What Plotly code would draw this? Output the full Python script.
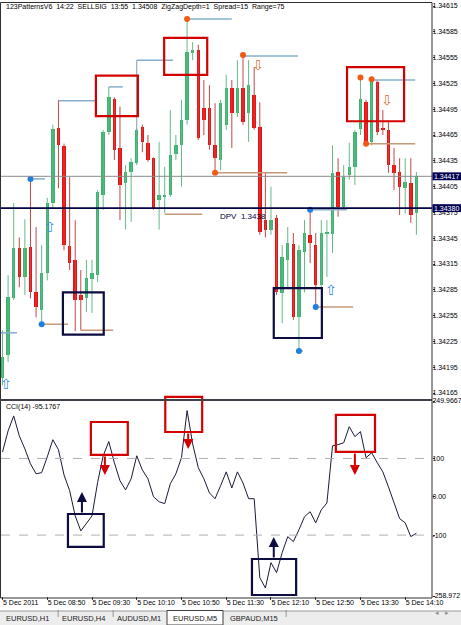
import plotly.graph_objects as go

W, H = 461, 625

# ---------------- data ----------------
bar_idx = list(range(75))
opens = [1.34183, 1.34209, 1.34275, 1.34334, 1.34300, 1.34335, 1.34282, 1.34261, 1.34305, 1.34386,
         1.34473, 1.34452, 1.34336, 1.34320, 1.34279, 1.34275, 1.34298, 1.34302, 1.34395, 1.34468,
         1.34507, 1.34450, 1.34409, 1.34422, 1.34432, 1.34474, 1.34456, 1.34438, 1.34389, 1.34393,
         1.34395, 1.34443, 1.34453, 1.34482, 1.34560, 1.34564, 1.34496, 1.34496, 1.34453, 1.34436,
         1.34477, 1.34520, 1.34491, 1.34520, 1.34491, 1.34511, 1.34474, 1.34366, 1.34355, 1.34368,
         1.34281, 1.34320, 1.34338, 1.34253, 1.34329, 1.34349, 1.34337, 1.34291, 1.34350, 1.34350,
         1.34422, 1.34381, 1.34418, 1.34428, 1.34472, 1.34503, 1.34457, 1.34527, 1.34473, 1.34471,
         1.34430, 1.34422, 1.34403, 1.34409, 1.34374]
closes = [1.34207, 1.34277, 1.34334, 1.34300, 1.34334, 1.34282, 1.34265, 1.34305, 1.34386, 1.34472,
          1.34453, 1.34337, 1.34316, 1.34273, 1.34273, 1.34299, 1.34305, 1.34399, 1.34468, 1.34509,
          1.34448, 1.34407, 1.34422, 1.34434, 1.34471, 1.34457, 1.34436, 1.34380, 1.34395, 1.34395,
          1.34442, 1.34453, 1.34482, 1.34561, 1.34564, 1.34461, 1.34482, 1.34453, 1.34438, 1.34502,
          1.34520, 1.34491, 1.34520, 1.34480, 1.34523, 1.34473, 1.34352, 1.34355, 1.34366, 1.34282,
          1.34323, 1.34339, 1.34253, 1.34331, 1.34351, 1.34339, 1.34291, 1.34351, 1.34352, 1.34421,
          1.34381, 1.34416, 1.34428, 1.34468, 1.34507, 1.34456, 1.34529, 1.34468, 1.34471, 1.34430,
          1.34421, 1.34405, 1.34410, 1.34372, 1.34417]
highs = [1.34238, 1.34302, 1.34386, 1.34346, 1.34367, 1.34414, 1.34358, 1.34337, 1.34392, 1.34477,
         1.34506, 1.34455, 1.34416, 1.34366, 1.34308, 1.34320, 1.34320, 1.34401, 1.34471, 1.34521,
         1.34509, 1.34498, 1.34430, 1.34438, 1.34473, 1.34477, 1.34465, 1.34439, 1.34457, 1.34428,
         1.34494, 1.34465, 1.34506, 1.34600, 1.34573, 1.34570, 1.34529, 1.34523, 1.34502, 1.34506,
         1.34535, 1.34529, 1.34552, 1.34558, 1.34552, 1.34544, 1.34503, 1.34422, 1.34405, 1.34372,
         1.34337, 1.34358, 1.34351, 1.34337, 1.34366, 1.34378, 1.34351, 1.34366, 1.34366, 1.34453,
         1.34438, 1.34430, 1.34456, 1.34471, 1.34532, 1.34506, 1.34530, 1.34529, 1.34494, 1.34482,
         1.34450, 1.34438, 1.34438, 1.34438, 1.34422]
lows = [1.34174, 1.34201, 1.34273, 1.34288, 1.34279, 1.34275, 1.34253, 1.34245, 1.34296, 1.34380,
        1.34403, 1.34331, 1.34308, 1.34237, 1.34238, 1.34259, 1.34258, 1.34294, 1.34378, 1.34465,
        1.34436, 1.34366, 1.34355, 1.34364, 1.34430, 1.34445, 1.34434, 1.34378, 1.34355, 1.34374,
        1.34393, 1.34436, 1.34405, 1.34477, 1.34552, 1.34459, 1.34465, 1.34448, 1.34421, 1.34424,
        1.34471, 1.34450, 1.34486, 1.34477, 1.34457, 1.34471, 1.34349, 1.34346, 1.34349, 1.34279,
        1.34246, 1.34288, 1.34250, 1.34214, 1.34282, 1.34316, 1.34265, 1.34288, 1.34300, 1.34328,
        1.34370, 1.34378, 1.34413, 1.34407, 1.34465, 1.34455, 1.34453, 1.34465, 1.34465, 1.34421,
        1.34401, 1.34372, 1.34374, 1.34363, 1.34349]
cci14 = [117, 172, 211, 159, 125, 86, 60, 63, 104, 149,
         123, 57, 16, -50, -89, -70, -50, 37, 107, 144,
         89, 42, 18, 47, 107, 70, 47, 0, -13, -18,
         34, 60, 102, 225, 138, 76, 47, 10, -5, 29,
         65, 23, 65, 36, -5, -5, -211, -238, -172, -198,
         -146, -104, -117, -86, -52, -39, -68, -34, -16, 133,
         136, 141, 183, 157, 170, 102, 115, 89, 65, 26,
         -13, -57, -68, -104, -95.1767]

price_ticks = [1.34615, 1.34585, 1.34555, 1.34525, 1.34495, 1.34465, 1.34435, 1.34405,
               1.34375, 1.34345, 1.34315, 1.34285, 1.34255, 1.34225, 1.34195, 1.34165]
time_tick_bars = [0, 8, 16, 24, 32, 40, 48, 56, 64, 72]
time_tick_text = ["5 Dec 2011", "5 Dec 08:50", "5 Dec 09:30", "5 Dec 10:10", "5 Dec 10:50",
                  "5 Dec 11:30", "5 Dec 12:10", "5 Dec 12:50", "5 Dec 13:30", "5 Dec 14:10"]
cci_ticks = [249.9667, 100, 0, -100, -258.972]
cci_tick_text = ["249.9667", "100", "0.00", "-100", "-258.972"]

bid_price = 1.34417
dpv_price = 1.34380

# indicator levels: (start bar, end bar, price)
levels_blue = [(10, 16.9, 1.34505), (19, 21.5, 1.34521), (24, 30.5, 1.34552), (33, 41, 1.34600),
               (43, 52.8, 1.34557), (5, 7.6, 1.34414), (55, 61.6, 1.34378), (66, 73.8, 1.34529),
               (-0.5, 2.6, 1.34235)]
levels_brown = [(7, 11.7, 1.34245), (14, 19.8, 1.34238), (29, 35.7, 1.34373), (38, 50.9, 1.34421),
                (56, 62.7, 1.34265), (53, 53.7, 1.34214), (65, 73.8, 1.34455)]
connector_bar, connector_lo, connector_hi = 24, 1.34471, 1.34552
blue_points = [(5, 1.34414), (7, 1.34245), (53, 1.34214), (55, 1.34378), (56, 1.34265)]
orange_points = [(33, 1.34600), (43, 1.34558), (38, 1.34421), (64, 1.34532), (66, 1.34530), (65, 1.34455)]

# pattern boxes: (bar0, bar1, price0, price1)
main_red_boxes = [(16.7, 24.2, 1.34487, 1.34534), (28.9, 36.6, 1.34535, 1.34578), (61.6, 71.8, 1.34481, 1.34544)]
main_navy_boxes = [(10.8, 18.1, 1.34233, 1.34282), (48.5, 57.1, 1.34229, 1.34287)]
up_signals = [(8.5, 1.34358), (0.7, 1.34175), (58.7, 1.34285)]
down_signals = [(45.7, 1.34546), (68.7, 1.34506)]

cci_red_boxes = [(15.8, 22.4, 109.1, 195.2), (29.1, 35.7, 169.0, 260.5), (59.6, 66.6, 117.0, 213.5)]
cci_navy_boxes = [(11.7, 18.1, -131.0, -44.9), (44.6, 52.5, -256.3, -162.4)]
cci_red_arrows = [(18.3, 109.1, 57), (33.2, 169.0, 125), (63.0, 117.0, 57)]
cci_navy_arrows = [(14.2, -44.9, 12.5), (48.5, -162.4, -105)]

tabs = ["EURUSD,H1", "EURUSD,H4", "AUDUSD,M1", "EURUSD,M5", "GBPAUD,M15"]

# ---------------- geometry ----------------
def fx(p):
    return p / W


def fy(p):
    return 1 - p / H


XR = [-0.27, 76.79]
PR = [1.341592, 1.346197]
CR = [-258.972, 249.9667]
MAIN_DOM = [fy(398), fy(2)]
CCI_DOM = [fy(596), fy(401)]
X_DOM = [fx(1), fx(432)]
FONT = "Liberation Sans, Arial, sans-serif"

GREEN = "#3cb371"
RED = "#f01010"
BLUE_LVL = "#86aecb"
BROWN_LVL = "#c49a78"
NAVY = "#0c0c40"
BOXRED = "#d40000"

fig = go.Figure()

# wicks
for up, wcol in ((True, "#62bb86"), (False, "#c04848")):
    xs, ys = [], []
    for i in bar_idx:
        if (closes[i] >= opens[i]) == up:
            xs += [i, i, None]
            ys += [lows[i], highs[i], None]
    fig.add_trace(go.Scatter(x=xs, y=ys, mode="lines", line=dict(color=wcol, width=1),
                             xaxis="x", yaxis="y", hoverinfo="skip"))

# bodies
base = [min(o, c) for o, c in zip(opens, closes)]
hgt = [max(abs(c - o), 0.000015) for o, c in zip(opens, closes)]
cols = [GREEN if c >= o else RED for o, c in zip(opens, closes)]
fig.add_trace(go.Bar(x=bar_idx, y=hgt, base=base, width=0.62,
                     marker=dict(color=cols, line=dict(width=0)), xaxis="x", yaxis="y"))

# level lines
for lv, colr in ((levels_blue, BLUE_LVL), (levels_brown, BROWN_LVL)):
    xs, ys = [], []
    for a, b, p in lv:
        xs += [a, b, None]
        ys += [p, p, None]
    fig.add_trace(go.Scatter(x=xs, y=ys, mode="lines", line=dict(color=colr, width=1.5),
                             xaxis="x", yaxis="y"))
fig.add_trace(go.Scatter(x=[connector_bar, connector_bar], y=[connector_lo, connector_hi], mode="lines",
                         line=dict(color="#7f9fb8", width=1), xaxis="x", yaxis="y"))

# zigzag points
fig.add_trace(go.Scatter(x=[p[0] for p in blue_points], y=[p[1] for p in blue_points], mode="markers",
                         marker=dict(color="#1e7fe0", size=6), xaxis="x", yaxis="y"))
fig.add_trace(go.Scatter(x=[p[0] for p in orange_points], y=[p[1] for p in orange_points], mode="markers",
                         marker=dict(color="#f05a14", size=6), xaxis="x", yaxis="y"))

# CCI
fig.add_trace(go.Scatter(x=bar_idx, y=cci14, mode="lines", line=dict(color="#1a1a3a", width=1),
                         xaxis="x", yaxis="y2"))

shapes = []
# horizontal price lines
shapes.append(dict(type="line", xref="paper", yref="y", x0=fx(1), x1=fx(432), y0=bid_price, y1=bid_price,
                   line=dict(color="#8a8a8a", width=1)))
shapes.append(dict(type="line", xref="paper", yref="y", x0=fx(1), x1=fx(432), y0=dpv_price, y1=dpv_price,
                   line=dict(color="#000040", width=1.6)))
# CCI levels
for lv in (100, -100):
    shapes.append(dict(type="line", xref="paper", yref="y2", x0=fx(1), x1=fx(432), y0=lv, y1=lv,
                       line=dict(color="#b0b0b0", width=1, dash="dash")))
# boxes main
for b0, b1, p0, p1 in main_red_boxes:
    shapes.append(dict(type="rect", xref="x", yref="y", x0=b0, x1=b1, y0=p0, y1=p1,
                       line=dict(color=BOXRED, width=2.2)))
for b0, b1, p0, p1 in main_navy_boxes:
    shapes.append(dict(type="rect", xref="x", yref="y", x0=b0, x1=b1, y0=p0, y1=p1,
                       line=dict(color=NAVY, width=2.2)))


def cci_to_paper(v):
    return CCI_DOM[0] + (v - CR[0]) / (CR[1] - CR[0]) * (CCI_DOM[1] - CCI_DOM[0])


for b0, b1, v0, v1 in cci_red_boxes:
    shapes.append(dict(type="rect", xref="x", yref="paper", x0=b0, x1=b1, y0=cci_to_paper(v0),
                       y1=cci_to_paper(v1), line=dict(color=BOXRED, width=2.2)))
for b0, b1, v0, v1 in cci_navy_boxes:
    shapes.append(dict(type="rect", xref="x", yref="paper", x0=b0, x1=b1, y0=cci_to_paper(v0),
                       y1=cci_to_paper(v1), line=dict(color=NAVY, width=2.2)))

# frame
shapes.append(dict(type="rect", xref="paper", yref="paper", x0=fx(0.5), x1=fx(432), y0=fy(598), y1=fy(2.5),
                   line=dict(color="#303030", width=1)))
shapes.append(dict(type="line", xref="paper", yref="paper", x0=fx(0), x1=fx(432), y0=fy(400), y1=fy(400),
                   line=dict(color="#404048", width=2)))
# price label boxes
for p in (bid_price, dpv_price):
    shapes.append(dict(type="rect", xref="paper", yref="y", x0=fx(432.5), x1=fx(461), y0=p - 0.000046,
                       y1=p + 0.000046, fillcolor="#000050", line=dict(width=0)))
# tab strip
shapes.append(dict(type="rect", xref="paper", yref="paper", x0=0, x1=1, y0=0, y1=fy(611),
                   fillcolor="#ededed", line=dict(width=0)))
shapes.append(dict(type="line", xref="paper", yref="paper", x0=0, x1=1, y0=fy(611), y1=fy(611),
                   line=dict(color="#9a9a9a", width=1)))
shapes.append(dict(type="rect", xref="paper", yref="paper", x0=fx(167), x1=fx(223), y0=fy(625), y1=fy(610.5),
                   fillcolor="#ffffff", line=dict(color="#404040", width=1)))

ann = []
ann.append(dict(xref="paper", yref="paper", x=fx(4), y=fy(7), xanchor="left", yanchor="middle",
                text="123PatternsV6  14:22  SELLSIG  13:55  1.34508  ZigZagDepth=1  Spread=15  Range=75",
                showarrow=False, font=dict(family=FONT, size=7, color="#000000")))
ann.append(dict(xref="paper", yref="paper", x=fx(4), y=fy(407), xanchor="left", yanchor="middle",
                text="CCI(14) -95.1767", showarrow=False, font=dict(family=FONT, size=7, color="#000000")))
ann.append(dict(xref="x", yref="y", x=38.5, y=1.34370, xanchor="left", yanchor="middle",
                text="DPV  1.3438", showarrow=False, font=dict(family=FONT, size=8, color="#000040")))
for p in (bid_price, dpv_price):
    ann.append(dict(xref="paper", yref="y", x=fx(446.5), y=p, xanchor="center", yanchor="middle",
                    text="%.5f" % p, showarrow=False, font=dict(family=FONT, size=7, color="#ffffff")))
for b, p in up_signals:
    ann.append(dict(xref="x", yref="y", x=b, y=p, text="\u21e7", showarrow=False,
                    font=dict(family="DejaVu Sans", size=14, color="#3a8ad8")))
for b, p in down_signals:
    ann.append(dict(xref="x", yref="y", x=b, y=p, text="\u21e9", showarrow=False,
                    font=dict(family="DejaVu Sans", size=14, color="#d8743a")))
for b, tail, head in cci_red_arrows:
    ann.append(dict(xref="x", yref="y2", axref="x", ayref="y2", x=b, y=head, ax=b, ay=tail, text="",
                    showarrow=True, arrowhead=2, arrowsize=1, arrowwidth=2, arrowcolor=BOXRED))
for b, tail, head in cci_navy_arrows:
    ann.append(dict(xref="x", yref="y2", axref="x", ayref="y2", x=b, y=head, ax=b, ay=tail, text="",
                    showarrow=True, arrowhead=2, arrowsize=1, arrowwidth=2, arrowcolor=NAVY))
# tabs
tab_centers = [27, 83, 139, 195, 254]
for t, cx in zip(tabs, tab_centers):
    ann.append(dict(xref="paper", yref="paper", x=fx(cx), y=fy(618.5), text=t, showarrow=False,
                    xanchor="center", yanchor="middle", font=dict(family=FONT, size=7.5, color="#202020")))
for sx in (55, 110, 286):
    ann.append(dict(xref="paper", yref="paper", x=fx(sx), y=fy(618.5), text="|", showarrow=False,
                    font=dict(family=FONT, size=8, color="#707070")))
for sx, s in ((441, "\u25c2"), (451, "\u25b8")):
    ann.append(dict(xref="paper", yref="paper", x=fx(sx), y=fy(618.5), text=s, showarrow=False,
                    font=dict(family="DejaVu Sans", size=7, color="#909090")))

axis_font = dict(family=FONT, size=7, color="#000000")
fig.update_layout(
    width=W, height=H, autosize=False,
    margin=dict(l=0, r=0, t=0, b=0, pad=0),
    paper_bgcolor="#ffffff", plot_bgcolor="#ffffff",
    showlegend=False, hovermode=False, bargap=0,
    xaxis=dict(domain=X_DOM, range=XR, anchor="y2", showgrid=False, zeroline=False, showline=False,
               automargin=False,
               tickmode="array", tickvals=time_tick_bars, ticktext=time_tick_text, tickangle=0,
               ticks="outside", ticklen=3, tickcolor="#303030", tickfont=axis_font,
               ticklabelposition="outside right"),
    yaxis=dict(domain=MAIN_DOM, range=PR, anchor="x", side="right", showgrid=False, zeroline=False,
               showline=False, automargin=False, tickmode="array", tickvals=price_ticks,
               ticktext=["%.5f" % v for v in price_ticks], ticks="outside", ticklen=2,
               ticklabelstandoff=-4, tickcolor="#303030", tickfont=axis_font),
    yaxis2=dict(domain=CCI_DOM, range=CR, anchor="x", side="right", showgrid=False, zeroline=False,
                showline=False, automargin=False, tickmode="array", tickvals=cci_ticks,
                ticktext=cci_tick_text, ticks="outside", ticklen=2, ticklabelstandoff=-4,
                tickcolor="#303030", tickfont=axis_font),
    shapes=shapes,
    annotations=ann,
)

fig.write_html("out.html")
